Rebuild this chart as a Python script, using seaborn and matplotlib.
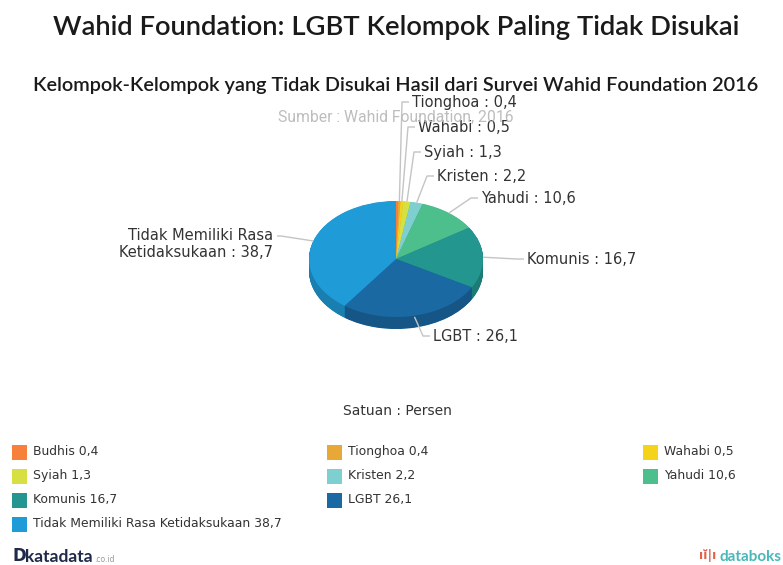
import matplotlib

matplotlib.use("Agg")
import matplotlib.pyplot as plt
import numpy as np
import seaborn as sns
from matplotlib.patches import Rectangle

# data, clockwise from 12 o'clock
groups = ["Budhis", "Tionghoa", "Wahabi", "Syiah", "Kristen", "Yahudi", "Komunis", "LGBT",
          "Tidak Memiliki Rasa Ketidaksukaan"]
values = [0.4, 0.4, 0.5, 1.3, 2.2, 10.6, 16.7, 26.1, 38.7]
colors = ["#f7813a", "#e8a838", "#f5d31a", "#d6e043", "#7ecfcf", "#4cbf8c", "#22968f",
          "#1a69a3", "#1f9bd8"]
value_labels = ["0,4", "0,4", "0,5", "1,3", "2,2", "10,6", "16,7", "26,1", "38,7"]

W, H = 783, 565
CX, CY, RX, RY = 396, 259, 87, 58  # pie centre / radii in pixels
DEPTH = 12

sns.set_theme(style="white")
plt.rcParams["font.family"] = ["DejaVu Sans"]


def fx(px):
    return px / W


def fy(py):
    return 1 - py / H


def dx(px):
    return (px - CX) / RX


def dy(py):
    return (CY - py) / RY


fig = plt.figure(figsize=(W / 100, H / 100), dpi=100)
ax = fig.add_axes([0, 0, 1, 1])

palette = sns.color_palette(colors)
side = [tuple(c * 0.82 for c in rgb) for rgb in palette]

# side of the 3D pie: stack darker pies downwards
n_layers = 30
depth = DEPTH / RY
for k in range(n_layers, 0, -1):
    ax.pie(values, colors=side, startangle=90, counterclock=False, radius=1,
           center=(0, -depth * k / n_layers), wedgeprops={"linewidth": 0})
# top face
ax.pie(values, colors=palette, startangle=90, counterclock=False, radius=1,
       center=(0, 0), wedgeprops={"linewidth": 0})

ax.set_aspect("auto")
ax.set_xlim(dx(0), dx(W))
ax.set_ylim(dy(H), dy(0))
ax.axis("off")

# data labels with connectors (Budhis label hidden as in original)
label_pos = {
    "Tionghoa": (412, 102),
    "Wahabi": (418, 127),
    "Syiah": (424, 152),
    "Kristen": (437, 176),
    "Yahudi": (481, 198),
    "Komunis": (527, 259),
    "LGBT": (433, 336),
}
total = sum(values)
cum = np.cumsum([0] + values[:-1])
for name, v, start, lab in zip(groups, values, cum, value_labels):
    theta = np.deg2rad(90 - (start + v / 2) / total * 360)
    ax_x, ax_y = np.cos(theta), np.sin(theta)
    if name == "LGBT":
        ax_y -= 0.02
    if name in label_pos:
        lx, ly = label_pos[name]
        ax.plot([ax_x, dx(lx - 10), dx(lx - 3)], [ax_y, dy(ly), dy(ly)],
                color="#c4c4c4", lw=1, solid_capstyle="butt")
        ax.text(dx(lx), dy(ly), f"{name} : {lab}", ha="left", va="center",
                fontsize=10.5, color="#333333")
    elif name.startswith("Tidak"):
        ax.plot([ax_x, dx(281), dx(277)], [ax_y, dy(236), dy(236)],
                color="#c4c4c4", lw=1, solid_capstyle="butt")
        ax.text(dx(273), dy(244), f"Tidak Memiliki Rasa\nKetidaksukaan : {lab}",
                ha="right", va="center", fontsize=10.5, color="#333333",
                linespacing=1.2)

# titles
fig.text(fx(396), fy(28), "Wahid Foundation: LGBT Kelompok Paling Tidak Disukai",
         ha="center", va="center", fontsize=19.7, family="Lato", weight="semibold",
         color="#1a1a1a")
fig.text(fx(396), fy(85),
         "Kelompok-Kelompok yang Tidak Disukai Hasil dari Survei Wahid Foundation 2016",
         ha="center", va="center", fontsize=14.3, family="Lato", weight="semibold",
         color="#1a1a1a")
fig.text(fx(396), fy(117), "Sumber : Wahid Foundation, 2016", ha="center", va="center",
         fontsize=11.3, family="Roboto", color="#bdbdbd")

fig.text(fx(397), fy(411), "Satuan : Persen", ha="center", va="center",
         fontsize=10, color="#333333")

# legend grid (last item wraps to its own row)
col_x = [12, 327, 643]
for i, (name, lab, c) in enumerate(zip(groups, value_labels, palette)):
    col, row = (i % 3, i // 3) if i < 8 else (0, 3)
    x0, yc = col_x[col], 452 + 24 * row
    fig.patches.append(Rectangle((fx(x0), fy(yc + 7.5)), 15 / W, 15 / H,
                                 transform=fig.transFigure, facecolor=c,
                                 edgecolor="none"))
    fig.text(fx(x0 + 21), fy(yc), f"{name} {lab}", ha="left", va="center",
             fontsize=8.9, color="#333333")

# footer logos
fig.text(fx(12), fy(556), "D", ha="left", va="center", fontsize=12, weight="bold",
         color="#1f2a4a")
fig.text(fx(25), fy(557), "katadata", ha="left", va="center", fontsize=12.5,
         weight="bold", color="#1f2a4a", family="Lato")
fig.text(fx(94), fy(559), ".co.id", ha="left", va="center", fontsize=5.5,
         color="#9a9a9a")
fig.text(fx(781), fy(557), "databoks", ha="right", va="center", fontsize=11,
         color="#49b8b8", family="Lato", weight="bold")
fig.text(fx(708), fy(556), "ıĭ|ı", ha="center", va="center", fontsize=9,
         color="#e0604c", weight="bold")

fig.savefig("out.png", dpi=100)
